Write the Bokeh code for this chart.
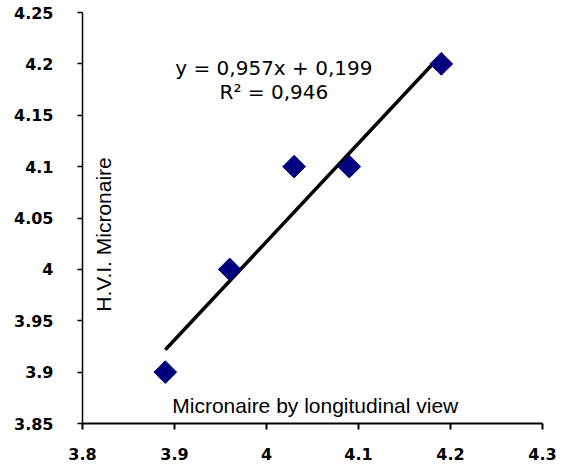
import math
from bokeh.plotting import figure
from bokeh.models import Label, FixedTicker, Range1d
from bokeh.embed import file_html
from bokeh.resources import INLINE

# Data
x_vals = [3.89, 3.96, 4.03, 4.09, 4.19]
y_vals = [3.90, 4.00, 4.10, 4.10, 4.20]
slope = 0.957
intercept = 0.199
x_ticks = [3.8, 3.9, 4.0, 4.1, 4.2, 4.3]
y_ticks = [3.85, 3.9, 3.95, 4.0, 4.05, 4.1, 4.15, 4.2, 4.25]
eq_text = "y = 0,957x + 0,199"
r2_text = "R\u00b2 = 0,946"
x_label = "Micronaire by longitudinal view"
y_label = "H.V.I. Micronaire"

p = figure(width=568, height=467, output_backend="svg", toolbar_location=None,
           x_range=Range1d(3.8, 4.3), y_range=Range1d(3.85, 4.25),
           min_border_left=82, min_border_right=26, min_border_top=12,
           min_border_bottom=44)
p.outline_line_color = None
p.grid.visible = False
p.background_fill_color = "white"

# axes
for ax in (p.xaxis[0], p.yaxis[0]):
    ax.axis_line_color = "black"
    ax.major_tick_line_color = "black"
    ax.minor_tick_line_color = None
    ax.major_label_text_font = "DejaVu Sans"
    ax.major_label_text_font_style = "bold"
    ax.major_label_text_font_size = "16px"
    ax.major_label_text_color = "black"
    ax.major_tick_in = 0
p.xaxis[0].ticker = FixedTicker(ticks=x_ticks)
p.yaxis[0].ticker = FixedTicker(ticks=y_ticks)
p.xaxis[0].axis_line_width = 2
p.xaxis[0].major_tick_line_width = 2
p.xaxis[0].major_tick_out = 6
p.xaxis[0].major_label_standoff = 18
p.yaxis[0].axis_line_width = 1.5
p.yaxis[0].major_tick_line_width = 1.5
p.yaxis[0].major_tick_out = 5
p.yaxis[0].major_label_standoff = 24
p.xaxis[0].major_label_overrides = {t: ("4" if abs(t - 4.0) < 1e-9 else f"{t:g}") for t in x_ticks}
p.yaxis[0].major_label_overrides = {t: ("4" if abs(t - 4.0) < 1e-9 else f"{t:g}") for t in y_ticks}

# trendline
fx = [min(x_vals), max(x_vals)]
fy = [slope * v + intercept for v in fx]
p.line(fx, fy, line_color="black", line_width=3.5)

# points
p.scatter(x_vals, y_vals, marker="square", size=16, angle=math.pi / 4,
          fill_color="#00007f", line_color="#00007f")

# texts
p.add_layout(Label(x=4.008, y=4.1955, text=eq_text, text_font="DejaVu Sans",
                   text_font_size="20px", text_align="center", text_baseline="middle",
                   text_color="black"))
p.add_layout(Label(x=4.008, y=4.173, text=r2_text, text_font="DejaVu Sans",
                   text_font_size="20px", text_align="center", text_baseline="middle",
                   text_color="black"))
p.add_layout(Label(x=4.053, y=3.8676, text=x_label, text_font="Liberation Sans",
                   text_font_size="21px", text_align="center", text_baseline="middle",
                   text_color="black"))
p.add_layout(Label(x=3.823, y=4.034, text=y_label, text_font="Liberation Sans",
                   text_font_size="21px", text_align="center", text_baseline="middle",
                   angle=math.pi / 2, text_color="black"))

open("out.html", "w").write(file_html(p, INLINE))
